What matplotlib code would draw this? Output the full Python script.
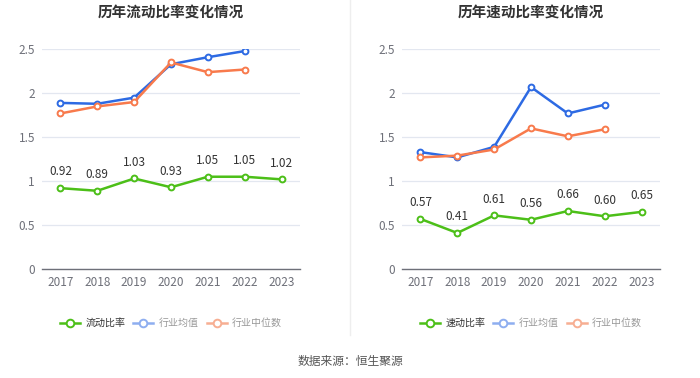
import matplotlib
matplotlib.use("Agg")
import matplotlib.pyplot as plt
from matplotlib.lines import Line2D

plt.rcParams['font.family'] = ['Noto Sans CJK SC', 'DejaVu Sans']

years = ['2017', '2018', '2019', '2020', '2021', '2022', '2023']

current_ratio = [0.92, 0.89, 1.03, 0.93, 1.05, 1.05, 1.02]
current_ind_mean = [1.89, 1.88, 1.95, 2.33, 2.41, 2.48]
current_ind_median = [1.77, 1.85, 1.90, 2.35, 2.24, 2.27]

quick_ratio = [0.57, 0.41, 0.61, 0.56, 0.66, 0.60, 0.65]
quick_ind_mean = [1.33, 1.27, 1.39, 2.07, 1.77, 1.87]
quick_ind_median = [1.27, 1.29, 1.36, 1.60, 1.51, 1.59]

titles = ['历年流动比率变化情况', '历年速动比率变化情况']
main_names = ['流动比率', '速动比率']
mean_name = '行业均值'
median_name = '行业中位数'
yticks = [0, 0.5, 1, 1.5, 2, 2.5]
ytick_labels = ['0', '0.5', '1', '1.5', '2', '2.5']
source = '数据来源：恒生聚源'

GREEN = '#4cbf18'
BLUE = '#2d6ae3'
ORANGE = '#f87a4c'
GREEN_L = '#4cbf18'
BLUE_L = '#8eaef0'
ORANGE_L = '#f7ae92'

W, H = 700, 378
fig = plt.figure(figsize=(7, 3.78), dpi=100)

panels = [
    (42, current_ratio, current_ind_mean, current_ind_median),
    (402, quick_ratio, quick_ind_mean, quick_ind_median),
]

for i, (x0, main, mean, med) in enumerate(panels):
    ax = fig.add_axes([x0 / W, 1 - 269 / H, 258 / W, (269 - 49.3) / H])
    xs = list(range(len(years)))
    ax.set_xlim(-0.5, len(years) - 0.5)
    ax.set_ylim(0, 2.5)
    for s in ['top', 'right', 'left']:
        ax.spines[s].set_visible(False)
    ax.spines['bottom'].set_color('#6e7079')
    ax.spines['bottom'].set_linewidth(1)
    ax.set_yticks(yticks)
    ax.set_yticklabels(ytick_labels)
    ax.set_xticks(xs)
    ax.set_xticklabels(years)
    ax.tick_params(axis='both', length=0, colors='#6e7079', labelsize=8.5)
    ax.tick_params(axis='y', pad=5)
    ax.tick_params(axis='x', pad=5)
    ax.grid(axis='y', color='#e3e7f0', linewidth=0.9)
    ax.set_axisbelow(True)

    mk = dict(marker='o', markersize=4.2, markerfacecolor='white',
              markeredgewidth=1.4, linewidth=1.8)
    ax.plot(xs[:len(mean)], mean, color=BLUE, zorder=3, **mk)
    ax.plot(xs[:len(med)], med, color=ORANGE, zorder=3, **mk)
    ax.plot(xs, main, color=GREEN, zorder=4, **mk)
    for x, v in zip(xs, main):
        ax.annotate(f'{v:.2f}', (x, v), xytext=(0, 7), textcoords='offset points',
                    ha='center', va='bottom', fontsize=8.5, color='#333333')

    cx = (x0 + 129) / W
    fig.text(cx, 1 - 12 / H, titles[i], ha='center', va='center',
             fontsize=10.5, fontweight='bold', color='#333333')

    lk = dict(marker='o', markersize=5.5, markerfacecolor='white',
              markeredgewidth=1.4, linewidth=1.8)
    handles = [Line2D([], [], color=GREEN_L, **lk),
               Line2D([], [], color=BLUE_L, **lk),
               Line2D([], [], color=ORANGE_L, **lk)]
    leg = fig.legend(handles, [main_names[i], mean_name, median_name],
                     loc='center', bbox_to_anchor=(cx, 1 - 323 / H), ncol=3,
                     frameon=False, fontsize=7.2, handlelength=2.0,
                     handletextpad=0.55, columnspacing=0.8)
    cols = ['#333333', '#999999', '#999999']
    for t, c in zip(leg.get_texts(), cols):
        t.set_color(c)

fig.add_artist(Line2D([350 / W, 350 / W], [1 - 335 / H, 1.0],
                      color='#eeeeee', linewidth=1))

fig.text(0.5, 1 - 361 / H, source, ha='center', va='center',
         fontsize=8.5, color='#555555')

fig.savefig('out.png', dpi=100, facecolor='white')
